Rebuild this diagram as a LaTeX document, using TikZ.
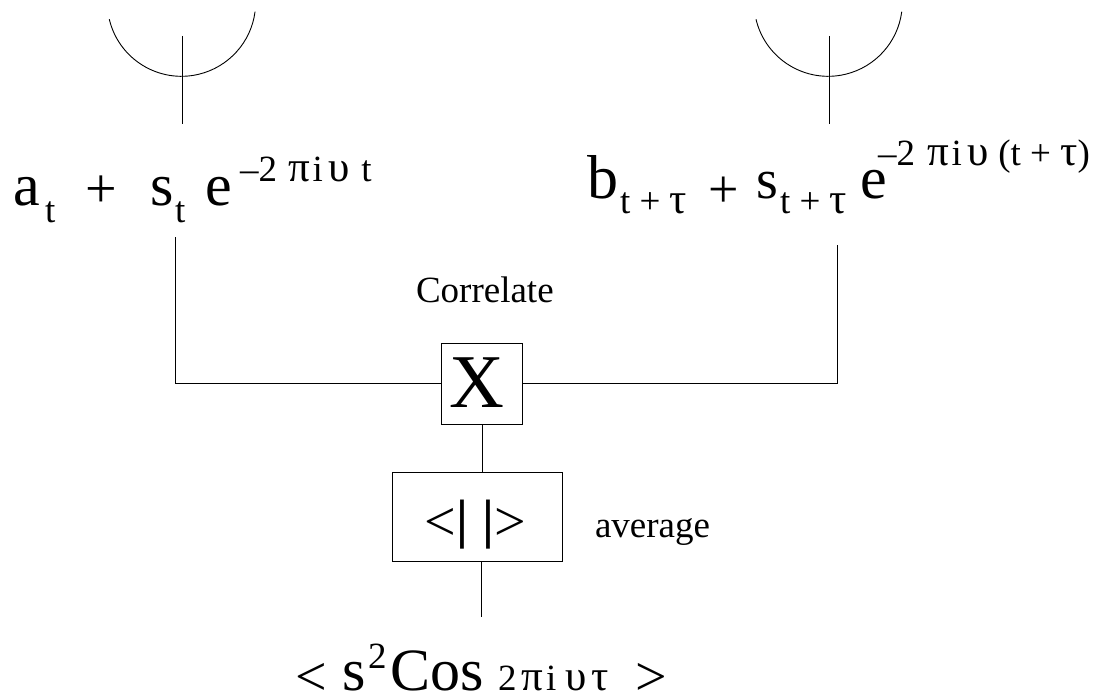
\documentclass[tikz,border=0pt]{standalone}
\usepackage{fontspec}
\setmainfont{Liberation Serif}
\newcommand{\fs}[1]{\fontsize{#1}{#1}\selectfont}
\newcommand{\gk}[1]{{\fs{43}#1}}
\tikzset{
  txt/.style={inner sep=0pt,outer sep=0pt,anchor=base west,font=\fs{60}},
  sub/.style={txt,font=\fs{37}},
  lab/.style={txt,font=\fs{37}},
  wire/.style={draw=black,line width=0.9pt},
  boxn/.style={draw=black,line width=0.9pt,inner sep=0pt,minimum width=#1,anchor=north west},
}
\begin{document}
\begin{tikzpicture}[x=1pt,y=-1pt]
\useasboundingbox (0,0) rectangle (1094,698);
% antennas
\draw[wire] (109.3,19.3) arc[start angle=193.4,end angle=352.6,radius=74.2pt];
\coordinate (la1) at (182,36); \coordinate (la2) at (182,124);
\draw[wire] (la1) -- (la2);
\draw[wire] (756,19.3) arc[start angle=193.4,end angle=352.6,radius=74.2pt];
\coordinate (ra1) at (829,36); \coordinate (ra2) at (829,124);
\draw[wire] (ra1) -- (ra2);
% left expression
\node[txt] (a) at (13,205) {a};
\node[sub] (at) at (45,222) {t};
\node[txt,font=\fs{56}] (p1) at (85,207) {+};
\node[txt] (s) at (150,205) {s};
\node[sub] (st) at (175,222) {t};
\node[txt] (e) at (205,205) {e};
\node[sub] (ex1) at (240,181) {–2\kern11pt \gk{π}\kern3pt i\kern6pt \gk{υ}\kern11pt t};
% right expression
\node[txt,font=\fs{62}] (b) at (587,198) {b};
\node[sub] (bt) at (620,213) {t + \gk{τ}};
\node[txt,font=\fs{54}] (p2) at (708,207) {+};
\node[txt,font=\fs{56}] (s2) at (756,198) {s};
\node[sub] (st2) at (780,213) {t + \gk{τ}};
\node[txt] (e2) at (860,198) {e};
\node[sub] (ex2) at (878,165) {–2\kern12pt \gk{π}\kern3pt i\kern5pt \gk{υ}\kern10pt (t + \gk{τ})};
% boxes
\node[boxn=81pt,minimum height=81.5pt] (xb) at (441,342.5) {};
\node[txt,font=\fs{76}] (xl) at (449,407) {X};
\node[boxn=170pt,minimum height=89pt] (av) at (392.3,472.3) {};
\node[txt,font=\fs{56}] (avl) at (424,540) {<};
\node[txt,font=\fs{54},anchor=base] (bar1) at (462,537) {\textbf{|}};
\node[txt,font=\fs{54},anchor=base] (bar2) at (488,537) {\textbf{|}};
\node[txt,font=\fs{56}] (avr) at (494,540) {>};
\node[lab] (corr) at (416,302.7) {Correlate};
\node[lab] (avg) at (595,537) {average};
% connectors
\coordinate (lt) at (175,237);
\coordinate (rt) at (837,245);
\coordinate (bt2) at (481.5,617);
\draw[wire] (lt) |- (xb.west);
\draw[wire] (rt) |- (xb.east);
\draw[wire] (xb.south) -- (xb.south |- av.north);
\draw[wire] (bt2 |- av.south) -- (bt2);
% bottom
\node[txt,font=\fs{56}] (lt1) at (295,695) {<};
\node[txt] (bs) at (342,690) {s};
\node[sub] (b2) at (368,668) {2};
\node[txt] (cos) at (390,690) {Cos};
\node[sub] (arg) at (498,690) {2\kern5pt \gk{π}\kern3pt i\kern9pt \gk{υ}\kern5pt \gk{τ}};
\node[txt,font=\fs{56}] (gt1) at (635,695) {>};
\end{tikzpicture}
\end{document}
